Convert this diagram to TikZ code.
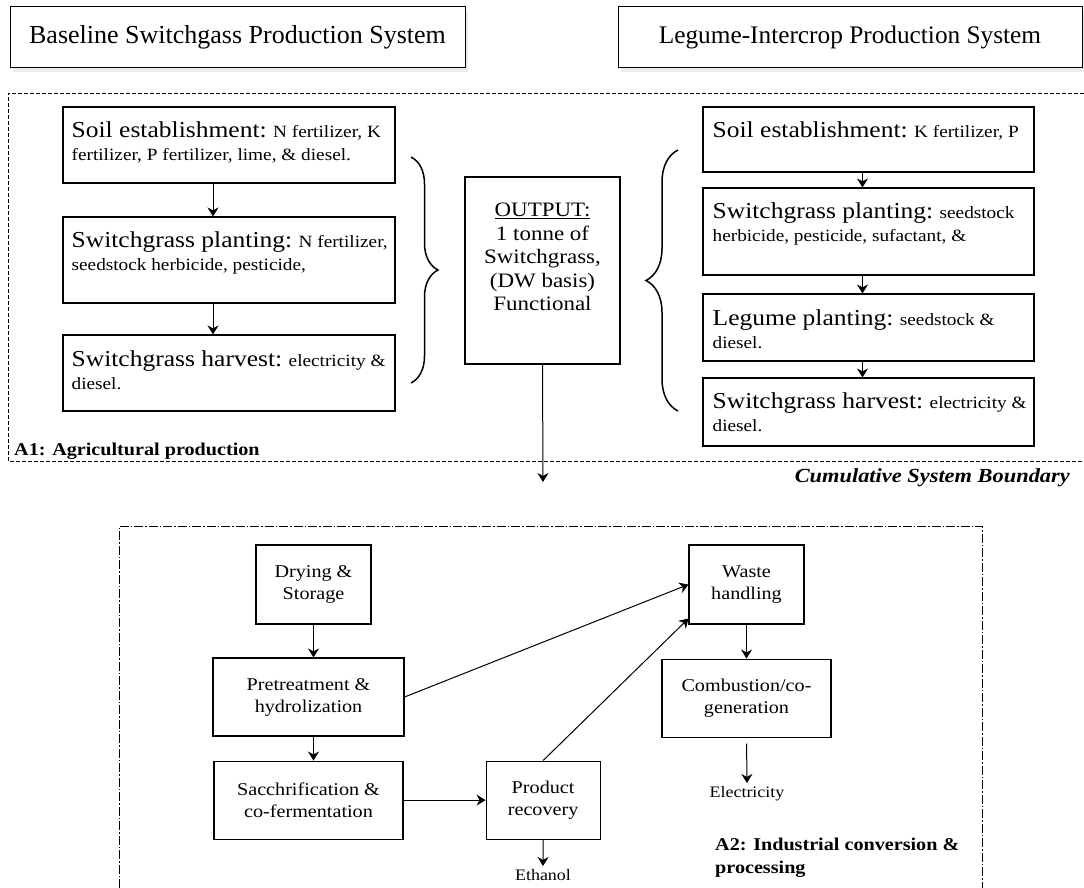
\documentclass[tikz,border=0pt]{standalone}
\usepackage{fontspec}
\setmainfont{Liberation Serif}[FakeStretch=1.12]
\newfontfamily\plainserif{Liberation Serif}
\usetikzlibrary{positioning,arrows.meta,decorations.pathreplacing,shadows}

\newcommand{\stagename}[1]{{\fontsize{22.8}{24}\selectfont #1}}

\tikzset{
  header/.style={draw, line width=1pt, fill=white, minimum height=61pt, inner sep=0pt,
    font=\plainserif\fontsize{26}{30}\selectfont,
    drop shadow={opacity=0.15, shadow xshift=3pt, shadow yshift=-4pt}},
  stagebox/.style={draw, line width=1.1pt, inner sep=0pt, minimum width=332pt},
  stagetext/.style={anchor=north west, inner sep=0pt, align=left, font=\fontsize{17.2}{23.5}\selectfont},
  procbox/.style={draw, line width=1.1pt, inner sep=0pt, align=center, font=\fontsize{18}{22}\selectfont},
  outtext/.style={inner sep=3pt, font=\fontsize{16}{18}\selectfont},
  flow/.style={-{Stealth[length=9pt,width=11pt]}, line width=1pt},
  curly/.style={decorate, decoration={brace, amplitude=#1}, line width=1.5pt},
  note/.style={inner sep=0pt, align=left, font=\fontsize{18}{23}\selectfont\bfseries},
}

\begin{document}
\begin{tikzpicture}[x=1pt, y=-1pt]
  \useasboundingbox (0,0) rectangle (1084,888);

  % headers
  \node[header, minimum width=455pt] (base) at (237.5,37.5) {Baseline Switchgass Production System};
  \node[header, minimum width=464pt, font=\plainserif\fontsize{25.3}{30}\selectfont] (legume) at (850,37.5) {Legume-Intercrop Production System\hspace{16pt}};

  % A1: agricultural production
  \draw[line width=0.8pt, dash pattern=on 4pt off 2pt] (1084,93) -- (8,93) -- (8,461) -- (1084,461);
  \node[note, anchor=base west] (a1) at (14,455) {A1: Agricultural production};
  \node[note, anchor=base east, font=\fontsize{20}{23}\selectfont\bfseries\itshape] (csb) at (1070,482) {Cumulative System Boundary};

  % baseline system
  \node[stagebox, minimum height=76pt] (soilL) at (229,145) {};
  \node[stagebox, minimum height=86pt] (plantL) at (229,260) {};
  \node[stagebox, minimum height=76pt] (harvL) at (229,373) {};
  \node[stagetext] (soilLt) at ([xshift=9pt,yshift=-15pt]soilL.north west)
    {\stagename{Soil establishment:} N fertilizer, K\\fertilizer, P fertilizer, lime, \& diesel.};
  \node[stagetext] (plantLt) at ([xshift=9pt,yshift=-15pt]plantL.north west)
    {\stagename{Switchgrass planting:} N fertilizer,\\seedstock herbicide, pesticide,};
  \node[stagetext] (harvLt) at ([xshift=9pt,yshift=-16pt]harvL.north west)
    {\stagename{Switchgrass harvest:} electricity \&\\diesel.};
  \draw[flow] ([xshift=-16pt]soilL.south) -- ([xshift=-16pt]plantL.north);
  \draw[flow] ([xshift=-16pt]plantL.south) -- ([xshift=-16pt]harvL.north);
  \draw[curly=27pt] (411,157) -- (411,383);

  % functional output
  \node[procbox, minimum width=155pt, minimum height=187pt] (output) at (542.5,270.5) {};
  \node[procbox, draw=none, anchor=north, font=\fontsize{20.5}{23.5}\selectfont] (outputt)
    at ([yshift=-26pt]output.north) {\underline{OUTPUT:}\\1 tonne of\\Switchgrass,\\(DW basis)\\Functional};
  \coordinate (outend) at (543,482);
  \draw[flow] (output.south) -- (outend);

  % legume-intercrop system
  \node[stagebox, minimum width=331pt, minimum height=65pt] (soilR) at (868.5,139.5) {};
  \node[stagebox, minimum width=331pt, minimum height=87pt] (plantR) at (868.5,231.5) {};
  \node[stagebox, minimum width=331pt, minimum height=67pt] (legR) at (868.5,327.5) {};
  \node[stagebox, minimum width=331pt, minimum height=68pt] (harvR) at (868.5,412) {};
  \node[stagetext] (soilRt) at ([xshift=10pt,yshift=-15pt]soilR.north west)
    {\stagename{Soil establishment:} K fertilizer, P};
  \node[stagetext] (plantRt) at ([xshift=10pt,yshift=-15pt]plantR.north west)
    {\stagename{Switchgrass planting:} seedstock\\herbicide, pesticide, sufactant, \&};
  \node[stagetext] (legRt) at ([xshift=10pt,yshift=-16pt]legR.north west)
    {\stagename{Legume planting:} seedstock \&\\diesel.};
  \node[stagetext] (harvRt) at ([xshift=10pt,yshift=-15pt]harvR.north west)
    {\stagename{Switchgrass harvest:} electricity \&\\diesel.};
  \draw[flow] ([xshift=-6pt]soilR.south) -- ([xshift=-6pt]plantR.north);
  \draw[flow] ([xshift=-6pt]plantR.south) -- ([xshift=-6pt]legR.north);
  \draw[flow] ([xshift=-6pt]legR.south) -- ([xshift=-6pt]harvR.north);
  \draw[curly=32pt] (678,411) -- (678,150);

  % A2: industrial conversion
  \draw[line width=0.7pt, dash pattern=on 9pt off 2pt on 1.5pt off 2pt] (119,888) -- (119,526) -- (982,526) -- (982,888);
  \node[procbox, minimum width=115pt, minimum height=79pt] (dry) at (313.5,584.5) {Drying \&\\Storage};
  \node[procbox, minimum width=191pt, minimum height=78pt] (pre) at (308.5,697) {Pretreatment \&\\hydrolization};
  \node[procbox, minimum width=189pt, minimum height=78pt, below=24pt of pre] (sacch) {Sacchrification \&\\co-fermentation};
  \node[procbox, minimum width=114pt, minimum height=78pt, right=82pt of sacch] (prod) {Product\\recovery};
  \node[procbox, minimum width=115pt, minimum height=79pt] (waste) at (746.5,584.5) {Waste\\handling};
  \node[procbox, minimum width=169pt, minimum height=78pt, below=34pt of waste] (comb) {Combustion/co-\\generation};
  \node[outtext, anchor=north] (ethanol) at (543,866) {Ethanol};
  \node[outtext, anchor=north] (elec) at (747,783) {Electricity};
  \node[note, anchor=north west] (a2) at (715,838) {A2: Industrial conversion \&\\processing};

  \draw[flow] (dry.south) -- (dry.south |- pre.north);
  \draw[flow] (dry.south |- pre.south) -- (dry.south |- sacch.north);
  \draw[flow] (sacch.east) -- (prod.west);
  \draw[flow] (prod.south) -- (ethanol.north);
  \draw[flow] (pre.east) -- (waste.west);
  \draw[flow] (prod.north) -- ([yshift=6pt]waste.south west);
  \draw[flow] (waste.south) -- (comb.north);
  \draw[flow, shorten <=6pt] (comb.south) -- (elec.north);
\end{tikzpicture}
\end{document}
